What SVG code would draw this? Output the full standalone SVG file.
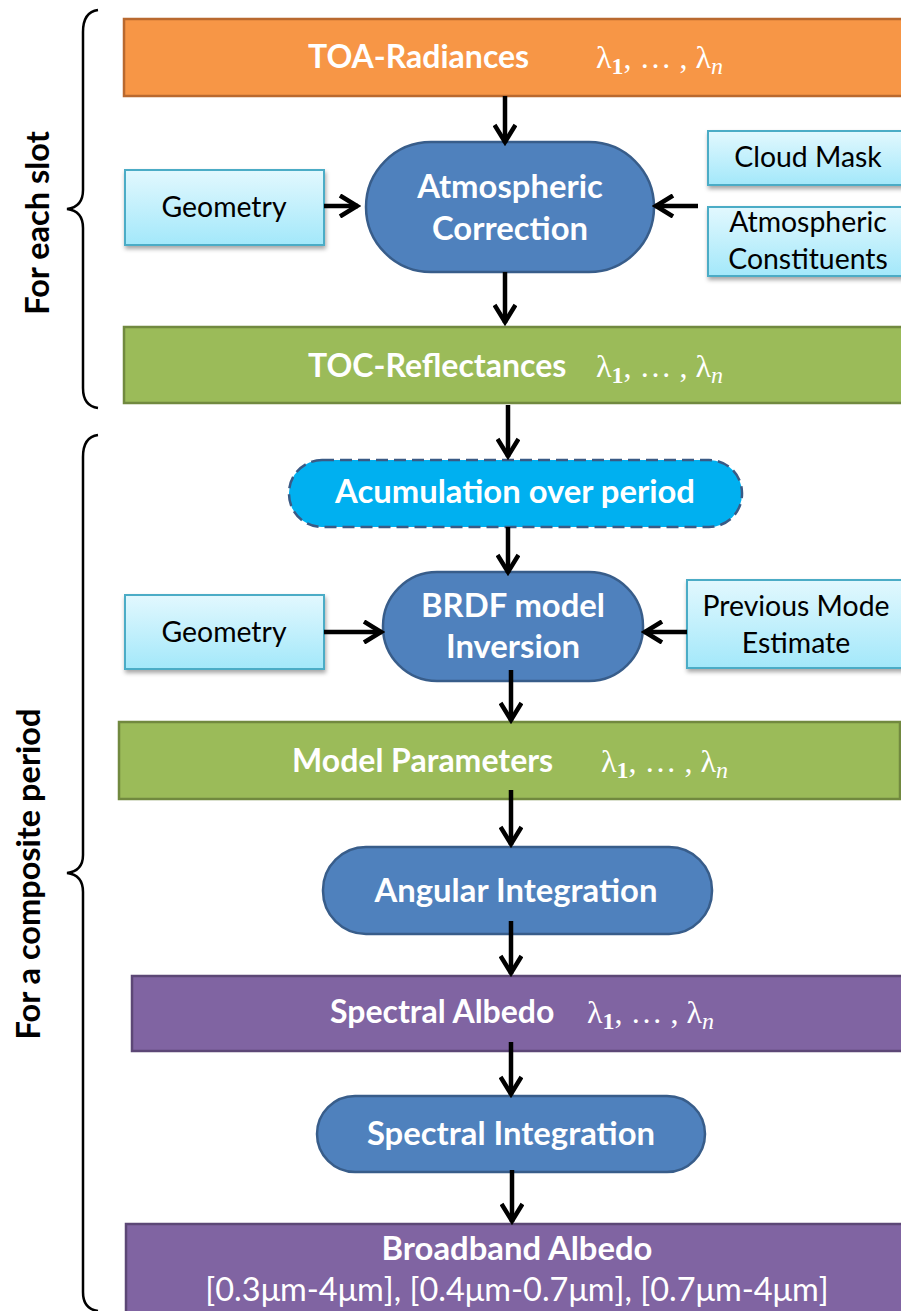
<svg xmlns="http://www.w3.org/2000/svg" width="901" height="1311" viewBox="0 0 901 1311">
<style>
.bar-t{font-family:Lato,"Liberation Sans",sans-serif;font-weight:bold;font-size:32px;fill:#fff}
.pill-t{font-family:Lato,"Liberation Sans",sans-serif;font-weight:bold;font-size:32.8px;fill:#fff;text-anchor:middle}
.box-t{font-family:Lato,"Liberation Sans",sans-serif;font-size:28.4px;fill:#000;text-anchor:middle}
.lam{font-family:"Liberation Serif","DejaVu Serif",serif;font-size:32px;fill:#fff}
.side{font-family:Lato,"Liberation Sans",sans-serif;font-weight:bold;font-size:32.5px;fill:#000;text-anchor:middle}
.orange{fill:#F79646;stroke:#B9692F;stroke-width:2.5}
.green{fill:#9BBB59;stroke:#71893F;stroke-width:2.5}
.purple{fill:#8064A2;stroke:#5C4776;stroke-width:2.5}
.pill{fill:#4F81BD;stroke:#385D8A;stroke-width:2.5}
.lbox{fill:url(#lg);stroke:#4BACC6;stroke-width:2;filter:url(#sh)}
.conn{stroke:#000;stroke-width:4.5;fill:none;marker-end:url(#ah)}
.brace{stroke:#000;stroke-width:2.5;fill:none}
</style>
<defs>
<linearGradient id="lg" x1="0" y1="0" x2="0" y2="1">
<stop offset="0" stop-color="#E2F8FE"/>
<stop offset="1" stop-color="#A3E8FA"/>
</linearGradient>
<filter id="sh" x="-10%" y="-10%" width="130%" height="140%">
<feDropShadow dx="1" dy="3" stdDeviation="2" flood-color="#000" flood-opacity="0.35"/>
</filter>
<marker id="ah" viewBox="0 0 24 24" refX="21" refY="12" markerWidth="24" markerHeight="24" markerUnits="userSpaceOnUse" orient="auto">
<path d="M3,1.5 L20,12 L3,22.5" fill="none" stroke="#000" stroke-width="4.5" stroke-linejoin="miter"/>
</marker>
</defs>
<rect width="901" height="1311" fill="#fff"/>

<g id="brace-slot">
<path class="brace" d="M98,10 Q83,12 83,32 L83,190 Q83,207 67,209 Q83,211 83,228 L83,388 Q83,406 98,408"/>
<text class="side" transform="translate(49,223) rotate(-90)">For each slot</text>
</g>
<g id="brace-period">
<path class="brace" d="M98,435 Q83,437 83,457 L83,855 Q83,871 67,873 Q83,875 83,892 L83,1292 Q83,1309 98,1311"/>
<text class="side" transform="translate(40,874) rotate(-90)">For a composite period</text>
</g>

<g id="toa">
<rect class="orange" x="124" y="19" width="790" height="77"/>
<text class="bar-t" x="308" y="68">TOA-Radiances</text>
<text class="lam" x="596" y="68">λ<tspan dy="6" font-size="24" font-weight="bold">1</tspan><tspan dy="-6">, … , λ</tspan><tspan dy="6" font-size="24" font-style="italic">n</tspan></text>
</g>
<g id="atm-corr">
<rect class="pill" x="366" y="142" width="288" height="130" rx="65"/>
<text class="pill-t" x="510" y="198">Atmospheric</text>
<text class="pill-t" x="510" y="240">Correction</text>
</g>
<g id="geometry1">
<rect class="lbox" x="125" y="170" width="199" height="75"/>
<text class="box-t" x="224" y="217">Geometry</text>
</g>
<g id="cloud-mask">
<rect class="lbox" x="708" y="131" width="210" height="54"/>
<text class="box-t" x="808" y="167">Cloud Mask</text>
</g>
<g id="atm-const">
<rect class="lbox" x="708" y="207" width="210" height="69"/>
<text class="box-t" x="808" y="232">Atmospheric</text>
<text class="box-t" x="808" y="269">Constituents</text>
</g>
<g id="toc">
<rect class="green" x="124" y="327" width="790" height="76"/>
<text class="bar-t" x="308" y="377">TOC-Reflectances</text>
<text class="lam" x="596" y="377">λ<tspan dy="6" font-size="24" font-weight="bold">1</tspan><tspan dy="-6">, … , λ</tspan><tspan dy="6" font-size="24" font-style="italic">n</tspan></text>
</g>
<g id="accum">
<rect x="289" y="460" width="453" height="67" rx="33" fill="#00B0F0" stroke="#3A5A85" stroke-width="2.5" stroke-dasharray="12 6"/>
<text class="pill-t" x="515" y="503">Acumulation over period</text>
</g>
<g id="brdf">
<rect class="pill" x="383" y="572" width="260" height="109" rx="54"/>
<text class="pill-t" x="513" y="617">BRDF model</text>
<text class="pill-t" x="513" y="658">Inversion</text>
</g>
<g id="geometry2">
<rect class="lbox" x="125" y="595" width="199" height="74"/>
<text class="box-t" x="224" y="642">Geometry</text>
</g>
<g id="prev-mode">
<rect class="lbox" x="687" y="580" width="230" height="88"/>
<text class="box-t" x="796" y="616">Previous Mode</text>
<text class="box-t" x="796" y="653">Estimate</text>
</g>
<g id="model-params">
<rect class="green" x="119" y="722" width="781" height="77"/>
<text class="bar-t" x="292" y="772">Model Parameters</text>
<text class="lam" x="601" y="772">λ<tspan dy="6" font-size="24" font-weight="bold">1</tspan><tspan dy="-6">, … , λ</tspan><tspan dy="6" font-size="24" font-style="italic">n</tspan></text>
</g>
<g id="angular">
<rect class="pill" x="323" y="847" width="389" height="87" rx="43"/>
<text class="pill-t" x="516" y="902">Angular Integration</text>
</g>
<g id="spectral-albedo">
<rect class="purple" x="132" y="976" width="790" height="75"/>
<text class="bar-t" x="330" y="1023">Spectral Albedo</text>
<text class="lam" x="587" y="1023">λ<tspan dy="6" font-size="24" font-weight="bold">1</tspan><tspan dy="-6">, … , λ</tspan><tspan dy="6" font-size="24" font-style="italic">n</tspan></text>
</g>
<g id="spectral-int">
<rect class="pill" x="317" y="1096" width="388" height="76" rx="38"/>
<text class="pill-t" x="511" y="1145">Spectral Integration</text>
</g>
<g id="broadband">
<rect class="purple" x="126" y="1224" width="790" height="100"/>
<text class="pill-t" x="517" y="1260" font-size="31.5">Broadband Albedo</text>
<text x="517" y="1301" font-family="Lato,'Liberation Sans',sans-serif" font-size="32.5" fill="#fff" text-anchor="middle">[0.3μm-4μm], [0.4μm-0.7μm], [0.7μm-4μm]</text>
</g>

<g id="connectors">
<line class="conn" x1="505" y1="96" x2="505" y2="143"/>
<line class="conn" x1="505" y1="272" x2="505" y2="323"/>
<line class="conn" x1="508" y1="405" x2="508" y2="457"/>
<line class="conn" x1="508" y1="527" x2="508" y2="573"/>
<line class="conn" x1="511" y1="670" x2="511" y2="721"/>
<line class="conn" x1="511" y1="790" x2="511" y2="845"/>
<line class="conn" x1="511" y1="921" x2="511" y2="974"/>
<line class="conn" x1="511" y1="1042" x2="511" y2="1095"/>
<line class="conn" x1="512" y1="1170" x2="512" y2="1222"/>
<line class="conn" x1="324" y1="206" x2="358" y2="206"/>
<line class="conn" x1="698" y1="206" x2="655" y2="206"/>
<line class="conn" x1="324" y1="632" x2="382" y2="632"/>
<line class="conn" x1="687" y1="632" x2="644" y2="632"/>
</g>
</svg>
